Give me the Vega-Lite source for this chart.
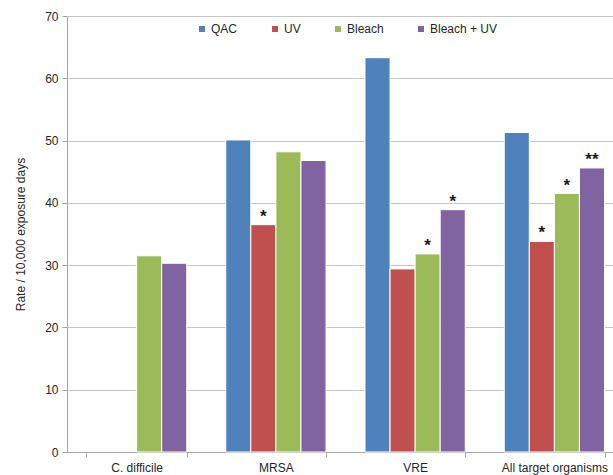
{
  "$schema": "https://vega.github.io/schema/vega-lite/v6.json",
  "width": 546,
  "height": 436,
  "autosize": {"type": "none"},
  "padding": {"left": 67, "top": 16, "right": 0, "bottom": 23},
  "background": "white",
  "config": {
    "view": {"stroke": null},
    "font": "Liberation Sans",
    "axis": {"labelColor": "#262626", "titleColor": "#262626", "domainColor": "#a6a6a6", "tickColor": "#a6a6a6", "gridColor": "#c6c6c6"}
  },
  "data": {
    "values": [
      {"organism": "C. difficile", "treatment": "Bleach", "rate": 31.5, "sig": ""},
      {"organism": "C. difficile", "treatment": "Bleach + UV", "rate": 30.3, "sig": ""},
      {"organism": "MRSA", "treatment": "QAC", "rate": 50.1, "sig": ""},
      {"organism": "MRSA", "treatment": "UV", "rate": 36.5, "sig": "*"},
      {"organism": "MRSA", "treatment": "Bleach", "rate": 48.2, "sig": ""},
      {"organism": "MRSA", "treatment": "Bleach + UV", "rate": 46.8, "sig": ""},
      {"organism": "VRE", "treatment": "QAC", "rate": 63.3, "sig": ""},
      {"organism": "VRE", "treatment": "UV", "rate": 29.4, "sig": ""},
      {"organism": "VRE", "treatment": "Bleach", "rate": 31.8, "sig": "*"},
      {"organism": "VRE", "treatment": "Bleach + UV", "rate": 38.9, "sig": "*"},
      {"organism": "All target organisms", "treatment": "QAC", "rate": 51.3, "sig": ""},
      {"organism": "All target organisms", "treatment": "UV", "rate": 33.8, "sig": "*"},
      {"organism": "All target organisms", "treatment": "Bleach", "rate": 41.5, "sig": "*"},
      {"organism": "All target organisms", "treatment": "Bleach + UV", "rate": 45.6, "sig": "**"}
    ]
  },
  "encoding": {
    "x": {
      "field": "organism",
      "type": "nominal",
      "sort": ["C. difficile", "MRSA", "VRE", "All target organisms"],
      "scale": {"range": [0, 557], "paddingInner": 0.28, "paddingOuter": 0.14},
      "axis": {"title": null, "labelAngle": 0, "labelFontSize": 12, "labelPadding": 5, "tickBand": "extent", "tickSize": 5, "domainWidth": 1}
    },
    "xOffset": {
      "field": "treatment",
      "type": "nominal",
      "scale": {"domain": ["QAC", "UV", "Bleach", "Bleach + UV"], "paddingInner": 0, "paddingOuter": 0}
    },
    "y": {
      "field": "rate",
      "type": "quantitative",
      "scale": {"domain": [0, 70], "nice": false},
      "axis": {"title": "Rate / 10,000 exposure days", "titleFontSize": 12, "titleFontWeight": "normal", "titlePadding": 17, "labelFontSize": 12, "values": [0, 10, 20, 30, 40, 50, 60, 70], "tickSize": 5, "labelPadding": 4}
    }
  },
  "layer": [
    {
      "mark": {"type": "bar", "stroke": "white", "strokeWidth": 1},
      "encoding": {
        "color": {
          "field": "treatment",
          "type": "nominal",
          "scale": {"domain": ["QAC", "UV", "Bleach", "Bleach + UV"], "range": ["#4F81BD", "#C0504D", "#9BBB59", "#8064A2"]},
          "legend": {
            "title": null,
            "orient": "none",
            "direction": "horizontal",
            "legendX": 129,
            "legendY": 7,
            "symbolType": "square",
            "symbolSize": 36,
            "symbolStrokeWidth": 0,
            "labelFontSize": 12,
            "labelColor": "#262626",
            "labelOffset": 3,
            "columnPadding": 31
          }
        }
      }
    },
    {
      "transform": [{"filter": "datum.sig != ''"}],
      "mark": {"type": "text", "baseline": "alphabetic", "dy": -3, "fontSize": 17, "fontWeight": "bold", "color": "#1a1a1a"},
      "encoding": {"text": {"field": "sig"}}
    }
  ]
}
